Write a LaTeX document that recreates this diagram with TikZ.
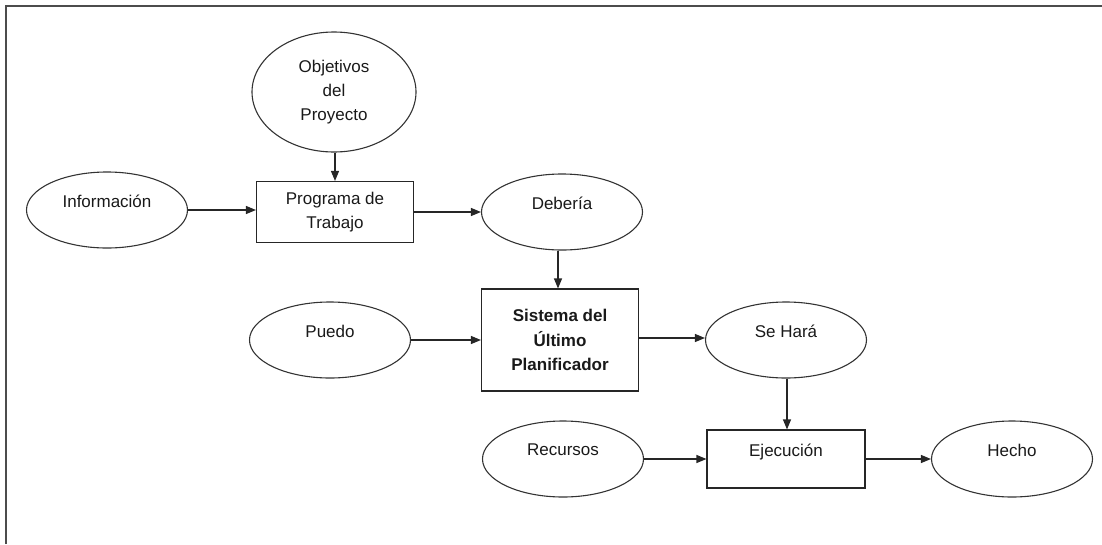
\documentclass[tikz,border=0pt]{standalone}
\usepackage{fontspec}
\setmainfont{Liberation Sans}
\usetikzlibrary{shapes.geometric,arrows.meta}
\begin{document}
\begin{tikzpicture}[x=1pt,y=-1pt,
  every node/.style={font=\fontsize{17}{24}\selectfont, text=black!90},
  oval/.style={ellipse, draw=black!80, line width=1.1pt, inner sep=0pt,
    minimum width=161pt, minimum height=76pt, align=center},
  lifted/.style={text depth=18pt},
  boxnode/.style={rectangle, draw=black!85, line width=1.1pt, inner sep=0pt,
    minimum width=157pt, align=center},
  arr/.style={draw=black!85, line width=1.1pt, -{Triangle[length=10pt,width=8pt]}}
]
\useasboundingbox (0,0) rectangle (1102,544);
% outer frame
\draw[line width=1.4pt, black!70] (6,544) -- (6,6) -- (1102,6);

% ovals
\node[oval, minimum width=164pt, minimum height=120pt] (obj) at (334,92) {Objetivos\\del\\Proyecto};
\node[oval, lifted] (info) at (107,210) {Información};
\node[oval, lifted] (deb) at (562,212) {Debería};
\node[oval, lifted] (puedo) at (330,340) {Puedo};
\node[oval, lifted] (sehara) at (786,340) {Se Hará};
\node[oval, lifted] (rec) at (563,459) {Recursos};
\node[oval, lifted] (hecho) at (1012,459) {Hecho};

% boxes
\node[boxnode, minimum height=61pt] (prog) at (335,212) {Programa de\\Trabajo};
\node[boxnode, minimum height=102pt, font=\fontsize{17}{24.5}\selectfont\bfseries] (sis) at (560,340) {Sistema del\\Último\\Planificador};
\node[boxnode, minimum width=158pt, minimum height=58pt, lifted] (ejec) at (786,459) {Ejecución};

% connectors
\draw[arr] (obj.south -| prog.north) -- (prog.north);
\draw[arr] (info) -- (info -| prog.west);
\draw[arr] (prog) -- (prog -| deb.west);
\draw[arr] (deb.south -| 558,0) -- (sis.north -| 558,0);
\draw[arr] (puedo) -- (puedo -| sis.west);
\draw[arr] (sis.east |- 0,338) -- (sehara.west |- 0,338);
\draw[arr] (sehara.south -| 787,0) -- (ejec.north -| 787,0);
\draw[arr] (rec) -- (rec -| ejec.west);
\draw[arr] (ejec) -- (ejec -| hecho.west);
\end{tikzpicture}
\end{document}
